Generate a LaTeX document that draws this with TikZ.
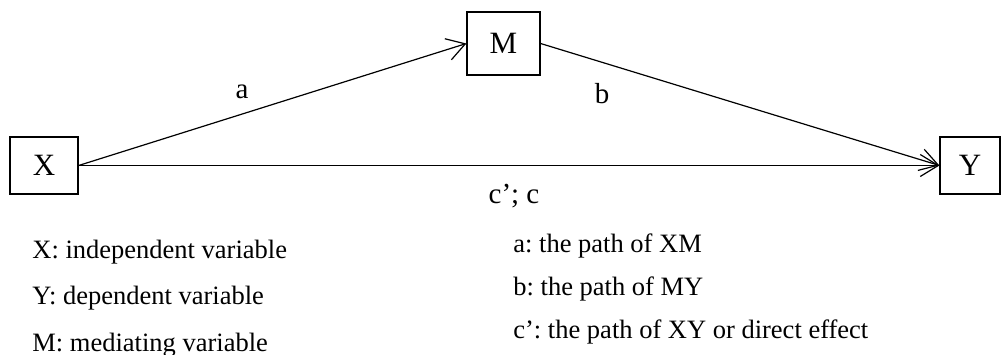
\documentclass[tikz,border=0pt]{standalone}
\usepackage{fontspec}
\setmainfont{Liberation Serif}
\usetikzlibrary{arrows.meta}

\begin{document}
\frenchspacing
\begin{tikzpicture}[
    x=0.5pt, y=-0.5pt,
    var/.style={rectangle, draw=black, line width=0.6pt, inner sep=0pt,
                font=\fontsize{15.5}{18}\selectfont},
    pathlabel/.style={anchor=base, inner sep=0pt, font=\fontsize{14.5}{17}\selectfont},
    legend/.style={anchor=base west, inner sep=0pt, font=\fontsize{13.25}{16}\selectfont},
    arrow/.style={-{Straight Barb[length=9pt, width=11pt]}, line width=0.6pt}
]

\useasboundingbox (0,0) rectangle (1002,354);

% Variables
\node[var, minimum width=34pt, minimum height=28.5pt] at (44,165.5) (x) {X};
\node[var, minimum width=36.5pt, minimum height=31.5pt] at (503.5,43.5) (m) {M};
\node[var, minimum width=30pt, minimum height=28.5pt] at (970,165.5) (y) {Y};

% Paths
\draw[arrow] (x.east) -- (m.west);
\draw[arrow] (m.east) -- (y.west);
\draw[arrow] (x.east) -- (y.west);

% Path labels
\node[pathlabel] at (242,98) (la) {a};
\node[pathlabel] at (602,103) (lb) {b};
\node[pathlabel] at (514,203) (lc) {c'; c};

% Legend
\node[legend] at (32,258) (kx) {X: independent variable};
\node[legend] at (32,304.5) (ky) {Y: dependent variable};
\node[legend] at (32,351) (km) {M: mediating variable};
\node[legend] at (513,252) (ka) {a: the path of XM};
\node[legend] at (513,295) (kb) {b: the path of MY};
\node[legend] at (513,338) (kc) {c': the path of XY or direct effect};

\end{tikzpicture}
\end{document}
